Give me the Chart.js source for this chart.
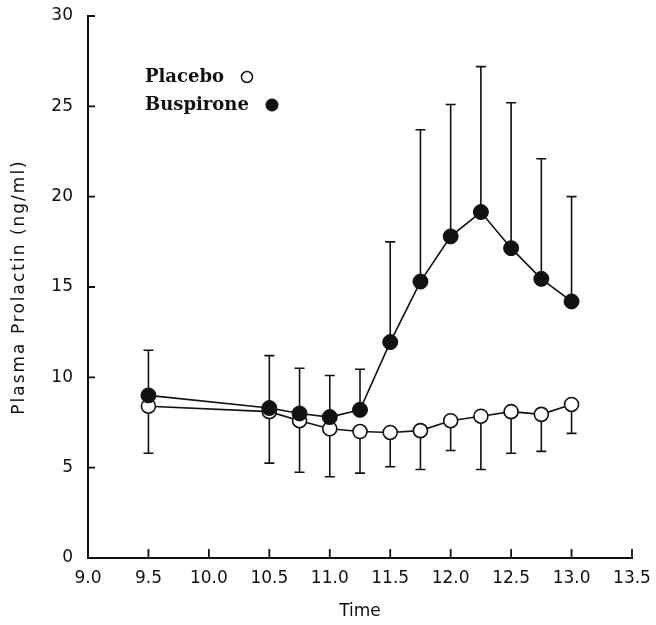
<!DOCTYPE html>
<html lang="en">
<head>
  <meta charset="UTF-8">
  <title>Plasma Prolactin</title>
  <script src="https://cdn.jsdelivr.net/npm/chart.js"></script>
  <style>
    html, body { margin: 0; padding: 0; background: #fff; }
    #wrap { width: 656px; height: 625px; position: relative; }
  </style>
</head>
<body>
<div id="wrap"><canvas id="prolactinChart" width="656" height="625"></canvas></div>

<script>
// hours of sampling
const times = [9.5, 10.5, 10.75, 11.0, 11.25, 11.5, 11.75, 12.0, 12.25, 12.5, 12.75, 13.0];

// placebo: mean and lower end of error bar
const placeboMean = [8.4, 8.1, 7.6, 7.15, 7.0, 6.95, 7.05, 7.6, 7.85, 8.1, 7.95, 8.5];
const placeboLow  = [5.8, 5.25, 4.75, 4.5, 4.7, 5.05, 4.9, 5.95, 4.9, 5.8, 5.9, 6.9];

// buspirone: mean and upper end of error bar
const buspironeMean = [9.0, 8.3, 8.0, 7.8, 8.2, 11.95, 15.3, 17.8, 19.15, 17.15, 15.45, 14.2];
const buspironeHigh = [11.5, 11.2, 10.5, 10.1, 10.45, 17.5, 23.7, 25.1, 27.2, 25.2, 22.1, 20.0];

const xTicks = [9.0, 9.5, 10.0, 10.5, 11.0, 11.5, 12.0, 12.5, 13.0, 13.5];
const yTicks = [0, 5, 10, 15, 20, 25, 30];

const legendLabels = ['Placebo', 'Buspirone'];
const yTitle = 'Plasma Prolactin (ng/ml)';

const tickFont = { family: 'DejaVu Sans', size: 17 };

function toPoints(ys) {
  return times.map((t, i) => ({ x: t, y: ys[i] }));
}

// error bars (drawn under the markers)
const errorBars = {
  id: 'errorBars',
  beforeDatasetsDraw(chart) {
    const ctx = chart.ctx;
    const xs = chart.scales.x, ys = chart.scales.y;
    ctx.save();
    ctx.strokeStyle = '#111';
    ctx.lineWidth = 1.6;
    const cap = 5;
    const bar = (t, a, b) => {
      const px = xs.getPixelForValue(t);
      const p1 = ys.getPixelForValue(a), p2 = ys.getPixelForValue(b);
      ctx.beginPath();
      ctx.moveTo(px, p1); ctx.lineTo(px, p2);
      ctx.moveTo(px - cap, p2); ctx.lineTo(px + cap, p2);
      ctx.stroke();
    };
    times.forEach((t, i) => {
      bar(t, placeboMean[i], placeboLow[i]);
      bar(t, buspironeMean[i], buspironeHigh[i]);
    });
    ctx.restore();
  }
};

// inward tick marks, y title and the little legend
const decorations = {
  id: 'decorations',
  afterDraw(chart) {
    const ctx = chart.ctx;
    const xs = chart.scales.x, ys = chart.scales.y;
    const area = chart.chartArea;
    ctx.save();
    ctx.strokeStyle = '#111';
    ctx.lineWidth = 1.8;
    ctx.beginPath();
    yTicks.forEach(v => {
      const py = ys.getPixelForValue(v);
      ctx.moveTo(area.left, py); ctx.lineTo(area.left + 7, py);
    });
    xTicks.forEach(v => {
      const px = xs.getPixelForValue(v);
      ctx.moveTo(px, area.bottom); ctx.lineTo(px, area.bottom - 9);
    });
    ctx.stroke();

    // y axis title, spaced out like the original
    ctx.save();
    ctx.fillStyle = '#111';
    ctx.font = '17px "DejaVu Sans"';
    ctx.letterSpacing = '2px';
    ctx.textAlign = 'center';
    ctx.textBaseline = 'middle';
    ctx.translate(20, (area.top + area.bottom) / 2);
    ctx.rotate(-Math.PI / 2);
    ctx.fillText(yTitle, 0, 0);
    ctx.restore();

    // legend
    ctx.fillStyle = '#111';
    ctx.font = 'bold 18px "DejaVu Serif"';
    ctx.textBaseline = 'middle';
    ctx.textAlign = 'left';
    ctx.fillText(legendLabels[0], 145, 77);
    ctx.fillText(legendLabels[1], 145, 105);
    ctx.lineWidth = 1.5;
    ctx.beginPath();
    ctx.arc(247, 77, 5.5, 0, Math.PI * 2);
    ctx.stroke();
    ctx.beginPath();
    ctx.arc(272, 105, 6.5, 0, Math.PI * 2);
    ctx.fill();
    ctx.restore();
  }
};

new Chart(document.getElementById('prolactinChart'), {
  type: 'scatter',
  data: {
    datasets: [
      {
        label: legendLabels[1],
        data: toPoints(buspironeMean),
        showLine: true,
        borderColor: '#111',
        borderWidth: 1.6,
        pointRadius: 7.5,
        pointBackgroundColor: '#111',
        pointBorderColor: '#111',
        pointBorderWidth: 1,
        order: 0
      },
      {
        label: legendLabels[0],
        data: toPoints(placeboMean),
        showLine: true,
        borderColor: '#111',
        borderWidth: 1.6,
        pointRadius: 7,
        pointBackgroundColor: '#fff',
        pointBorderColor: '#111',
        pointBorderWidth: 1.6,
        order: 1
      }
    ]
  },
  options: {
    responsive: false,
    animation: false,
    layout: { padding: { top: 16, right: 24, left: 0, bottom: 0 } },
    plugins: {
      legend: { display: false },
      tooltip: { enabled: false }
    },
    scales: {
      x: {
        type: 'linear',
        min: 9.0,
        max: 13.5,
        afterFit(scale) {
          scale.height = 67;
          scale.paddingLeft = 0;
          scale.paddingRight = 0;
        },
        afterBuildTicks(scale) { scale.ticks = xTicks.map(v => ({ value: v })); },
        grid: { display: false, drawTicks: false },
        border: { display: true, color: '#111', width: 2 },
        ticks: {
          padding: 10,
          color: '#111',
          font: tickFont,
          maxRotation: 0,
          autoSkip: false,
          callback: v => v.toFixed(1)
        },
        title: {
          display: true,
          text: 'Time',
          color: '#111',
          font: { family: 'DejaVu Sans', size: 17 },
          padding: { top: 0, bottom: 3 }
        }
      },
      y: {
        min: 0,
        max: 30,
        afterFit(scale) {
          scale.width = 88;
          scale.paddingTop = 0;
          scale.paddingBottom = 0;
        },
        afterBuildTicks(scale) { scale.ticks = yTicks.map(v => ({ value: v })); },
        grid: { display: false, drawTicks: false },
        border: { display: true, color: '#111', width: 2 },
        ticks: {
          padding: 15,
          color: '#111',
          font: tickFont
        }
      }
    }
  },
  plugins: [errorBars, decorations]
});
</script>
</body>
</html>
